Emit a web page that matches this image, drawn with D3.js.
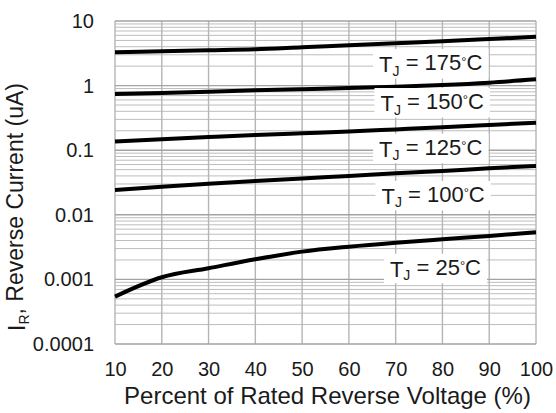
<!DOCTYPE html>
<html>
<head>
<meta charset="utf-8">
<script src="https://cdn.jsdelivr.net/npm/d3@7"></script>
<style>
  body { margin: 0; background: #fff; }
  text { font-family: "Liberation Sans", Arial, sans-serif; fill: #1a1a1a; }
</style>
</head>
<body>
<script>
'use strict';

// percent of rated reverse voltage
const percents = [10, 20, 30, 40, 50, 60, 70, 80, 90, 100];

// reverse current (uA) for each junction temperature
const tj175 = [3.28, 3.40, 3.52, 3.65, 3.92, 4.21, 4.52, 4.85, 5.25, 5.71];
const tj150 = [0.741, 0.77, 0.80, 0.845, 0.88, 0.915, 0.96, 1.02, 1.11, 1.25];
const tj125 = [0.136, 0.148, 0.160, 0.172, 0.183, 0.195, 0.21, 0.226, 0.245, 0.267];
const tj100 = [0.0242, 0.0272, 0.0302, 0.0333, 0.0366, 0.040, 0.0438, 0.0475, 0.0525, 0.057];
const tj25 = [0.000542, 0.00108, 0.00149, 0.00205, 0.00269, 0.00321, 0.0037, 0.00418, 0.0047, 0.00536];

const seriesNames = ['175', '150', '125', '100', '25'];
// where each curve's label sits (x in %, y in uA)
const labelX = [77.5, 77.8, 77.5, 78, 78.5];
const labelY = [1.62, 0.404, 0.0794, 0.0147, 0.0011];

const xTicks = [10, 20, 30, 40, 50, 60, 70, 80, 90, 100];
const yTicks = [0.0001, 0.001, 0.01, 0.1, 1, 10];
const yTickLabels = ['0.0001', '0.001', '0.01', '0.1', '1', '10'];

const margin = { top: 21, right: 20, bottom: 69, left: 115 };
const width = 556, height = 413;
const plotW = width - margin.left - margin.right;
const plotH = height - margin.top - margin.bottom;

const svg = d3.select('body').append('svg')
  .attr('width', width)
  .attr('height', height);

const g = svg.append('g')
  .attr('transform', 'translate(' + margin.left + ',' + margin.top + ')');

const x = d3.scaleLinear().domain([10, 100]).range([0, plotW]);
const y = d3.scaleLog().domain([0.0001, 10]).range([plotH, 0]);

// minor grid (2..9 in each decade)
const minor = [];
for (let d = -4; d < 1; d++) {
  for (let k = 2; k <= 9; k++) minor.push(k * Math.pow(10, d));
}
g.append('g').selectAll('line')
  .data(minor)
  .enter().append('line')
  .attr('x1', 0).attr('x2', plotW)
  .attr('y1', d => y(d)).attr('y2', d => y(d))
  .attr('stroke', '#bdbdbd')
  .attr('stroke-width', 1);

// vertical grid
g.append('g').selectAll('line')
  .data(xTicks)
  .enter().append('line')
  .attr('x1', d => x(d)).attr('x2', d => x(d))
  .attr('y1', 0).attr('y2', plotH)
  .attr('stroke', '#b5b5b5')
  .attr('stroke-width', 1.4);

// decade lines
g.append('g').selectAll('line')
  .data(yTicks)
  .enter().append('line')
  .attr('x1', 0).attr('x2', plotW)
  .attr('y1', d => y(d)).attr('y2', d => y(d))
  .attr('stroke', '#a3a3a3')
  .attr('stroke-width', 1.4);

// axes (labels only, grid acts as frame)
const xAxis = g.append('g')
  .attr('transform', 'translate(0,' + plotH + ')')
  .call(d3.axisBottom(x).tickValues(xTicks).tickSize(0).tickPadding(13));
const yAxis = g.append('g')
  .call(d3.axisLeft(y).tickValues(yTicks).tickSize(0).tickPadding(21)
    .tickFormat((d, i) => yTickLabels[i]));
[xAxis, yAxis].forEach(a => {
  a.select('.domain').remove();
  a.selectAll('text')
    .style('font-size', '20px')
    .style('font-family', '"Liberation Sans", Arial, sans-serif')
    .attr('fill', '#1a1a1a');
});
xAxis.selectAll('text').attr('dy', '0.95em');

// curves
const allSeries = [tj175, tj150, tj125, tj100, tj25];
const line = d3.line()
  .x((d, i) => x(percents[i]))
  .y(d => y(d))
  .curve(d3.curveMonotoneX);

g.append('g').selectAll('path')
  .data(allSeries)
  .enter().append('path')
  .attr('d', line)
  .attr('fill', 'none')
  .attr('stroke', '#000')
  .attr('stroke-width', 4)
  .attr('stroke-linecap', 'butt');

// curve labels with white boxes
seriesNames.forEach((name, i) => {
  const lg = g.append('g');
  const t = lg.append('text')
    .attr('x', x(labelX[i]))
    .attr('y', y(labelY[i]))
    .attr('text-anchor', 'middle')
    .style('font-size', '22px');
  t.append('tspan').text('T');
  t.append('tspan').text('J')
    .attr('dy', '0.25em')
    .style('font-size', '14px');
  t.append('tspan').text(' = ' + name)
    .attr('dy', '-0.25em');
  t.append('tspan').text('°')
    .style('font-size', '13px')
    .attr('dy', '-0.35em');
  t.append('tspan').text('C')
    .attr('dy', '0.21em');
  const bb = t.node().getBBox();
  lg.insert('rect', 'text')
    .attr('x', bb.x - 6)
    .attr('y', bb.y - 1)
    .attr('width', bb.width + 12)
    .attr('height', bb.height + 1)
    .attr('fill', '#fff');
});

// axis titles
svg.append('text')
  .attr('x', margin.left + plotW / 2 + 2)
  .attr('y', 404)
  .attr('text-anchor', 'middle')
  .style('font-size', '24px')
  .text('Percent of Rated Reverse Voltage (%)');

const yt = svg.append('text')
  .attr('transform', 'translate(25,207)rotate(-90)')
  .attr('text-anchor', 'middle')
  .style('font-size', '23px');
yt.append('tspan').text('I');
yt.append('tspan').text('R').attr('dy', '0.25em').style('font-size', '14px');
yt.append('tspan').text(', Reverse Current (uA)').attr('dy', '-0.25em');
</script>
</body>
</html>
